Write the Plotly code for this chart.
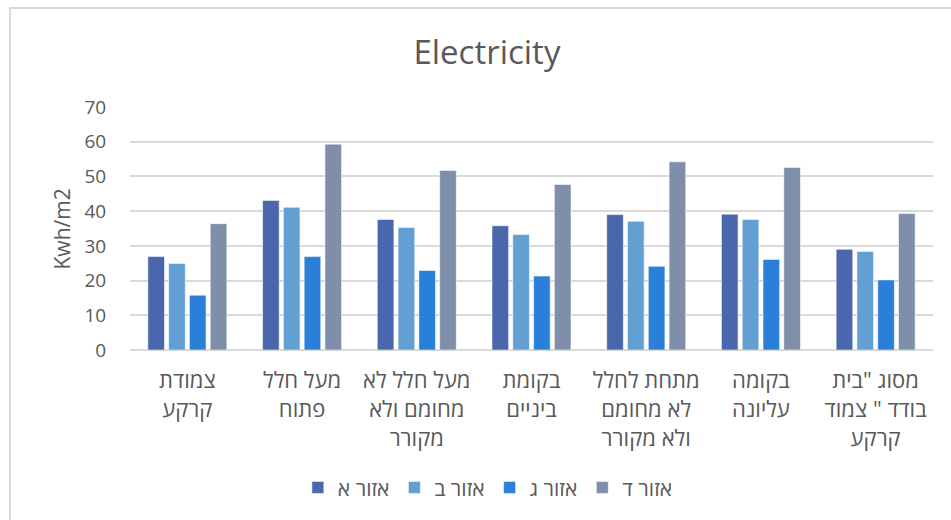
import plotly.graph_objects as go

# Category names, one entry per building position
categories = [
    "צמודת קרקע",
    "מעל חלל פתוח",
    "מעל חלל לא מחומם ולא מקורר",
    "בקומת ביניים",
    "מתחת לחלל לא מחומם ולא מקורר",
    "בקומה עליונה",
    'מסוג "בית בודד " צמוד קרקע',
]
# Wrapped axis labels shown under each group
tick_labels = [
    "צמודת<br>קרקע",
    "מעל חלל<br>פתוח",
    "מעל חלל לא<br>מחומם ולא<br>מקורר",
    "בקומת<br>ביניים",
    "מתחת לחלל<br>לא מחומם<br>ולא מקורר",
    "בקומה<br>עליונה",
    'מסוג "בית<br>בודד " צמוד<br>קרקע',
]

series_names = ["אזור א", "אזור ב", "אזור ג", "אזור ד"]

zone_a = [26.9, 43.1, 37.6, 35.8, 39.0, 39.1, 29.0]
zone_b = [24.9, 41.1, 35.3, 33.3, 37.1, 37.6, 28.4]
zone_c = [15.8, 26.9, 22.9, 21.3, 24.1, 26.1, 20.2]
zone_d = [36.4, 59.3, 51.7, 47.7, 54.2, 52.6, 39.3]
series_values = [zone_a, zone_b, zone_c, zone_d]

colors = ["#4A66AC", "#629FD2", "#2A80D8", "#7F8EA9"]

y_ticks = [0, 10, 20, 30, 40, 50, 60, 70]

HEB_FONT = "Open Sans, DejaVu Sans, sans-serif"
LAT_FONT = "Open Sans, Liberation Sans, sans-serif"
GREY = "#595959"

fig = go.Figure()
for name, vals, col in zip(series_names, series_values, colors):
    fig.add_trace(
        go.Bar(
            x=categories,
            y=vals,
            name=name,
            marker=dict(color=col, line=dict(color="rgba(255,255,255,0.55)", width=1)),
        )
    )

# outer chart frame
fig.add_shape(
    type="rect",
    xref="paper", yref="paper",
    x0=-0.1494, x1=1.05, y0=-0.75, y1=1.407,
    line=dict(color="#D9D9D9", width=2),
    fillcolor="rgba(0,0,0,0)",
    layer="below",
)

# vertical axis title
fig.add_annotation(
    text="Kwh/m2",
    textangle=-90,
    xref="paper", yref="paper",
    x=-0.0847, y=0.5,
    xanchor="center", yanchor="middle",
    showarrow=False,
    font=dict(family=LAT_FONT, size=21, color=GREY),
)

fig.update_layout(
    width=951,
    height=520,
    margin=dict(l=130, r=18, t=107, b=170, autoexpand=False),
    paper_bgcolor="white",
    plot_bgcolor="white",
    barmode="group",
    bargap=0.275,
    bargroupgap=0.2,
    title=dict(
        text="Electricity",
        font=dict(family=LAT_FONT, size=33, color=GREY),
        x=0.512, xref="container", xanchor="center",
        y=0.9, yref="container", yanchor="middle",
    ),
    legend=dict(
        orientation="h",
        traceorder="normal",
        font=dict(family=HEB_FONT, size=21, color=GREY),
        x=0.513, xref="container", xanchor="center",
        y=0.062, yref="container", yanchor="middle",
        itemwidth=30,
    ),
    showlegend=True,
)

fig.update_xaxes(
    type="category",
    tickvals=categories,
    ticktext=tick_labels,
    tickfont=dict(family=HEB_FONT, size=22, color=GREY),
    showgrid=False,
    showline=False,
    ticks="outside",
    ticklen=11,
    tickcolor="rgba(0,0,0,0)",
)

fig.update_yaxes(
    range=[0, 70],
    tickvals=y_ticks,
    tickfont=dict(family=LAT_FONT, size=19, color=GREY),
    gridcolor="#D9D9D9",
    gridwidth=1.5,
    zeroline=True,
    zerolinecolor="#D9D9D9",
    zerolinewidth=1.5,
    showline=False,
    ticks="outside",
    ticklen=19,
    tickcolor="rgba(0,0,0,0)",
)

fig.write_html("out.html")
